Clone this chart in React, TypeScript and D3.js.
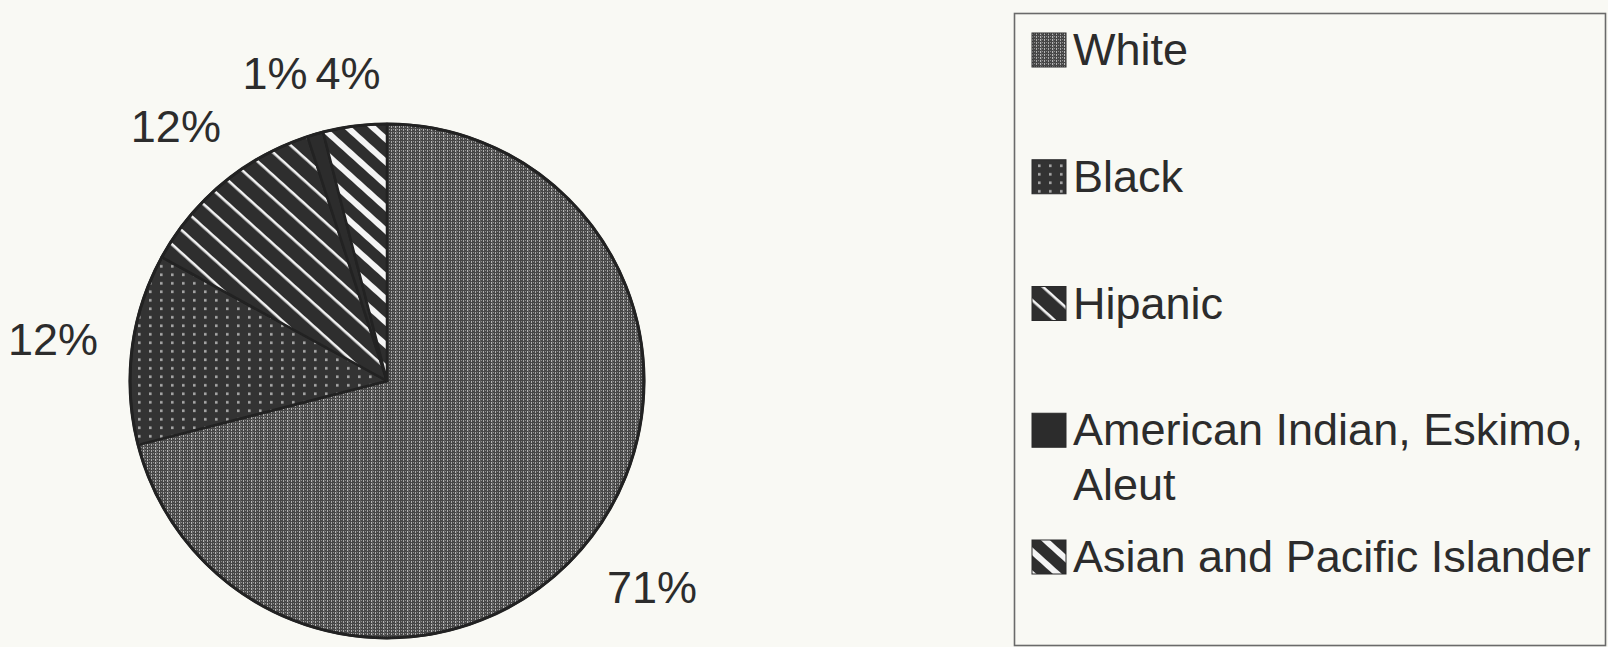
import React from "react";
import * as d3 from "d3";

const categories = [
  "White",
  "Black",
  "Hipanic",
  "American Indian, Eskimo, Aleut",
  "Asian and Pacific Islander",
];
const shares = [71, 12, 12, 1, 4];
const legendLines = [
  ["White"],
  ["Black"],
  ["Hipanic"],
  ["American Indian, Eskimo,", "Aleut"],
  ["Asian and Pacific Islander"],
];
const patternIds = ["pWhite", "pBlack", "pHisp", "pAmInd", "pAsian"];

const W = 1608;
const H = 647;
const CX = 387;
const CY = 381;
const R = 257;
const FONT = "'Liberation Sans', Arial, Helvetica, sans-serif";
const FS = 45;
const INK = "#2c2c2c";

type Label = { x: number; y: number; w: number; h: number; txt: string };

export default function App() {
  const pie = d3
    .pie<number>()
    .sort(null)
    .startAngle(0)
    .endAngle(2 * Math.PI);
  const arcs = pie(shares);
  const arc = d3.arc<d3.PieArcDatum<number>>().innerRadius(0).outerRadius(R);

  // labels sit just outside the rim, pushed out by their own half-extent
  const labels: Label[] = arcs.map((a) => {
    const mid = (a.startAngle + a.endAngle) / 2;
    const ux = Math.sin(mid);
    const uy = -Math.cos(mid);
    const txt = `${a.data}%`;
    const w = FS * (String(a.data).length * 0.556 + 0.889);
    const h = FS * 0.72;
    const ext = (w / 2) * Math.abs(ux) + (h / 2) * Math.abs(uy);
    const d = R + 33 + ext;
    return { x: CX + ux * d, y: CY + uy * d, w, h, txt };
  });
  // nudge crowded neighbours apart, keeping them on one line
  const pad = 8;
  for (let i = labels.length - 2; i >= 0; i--) {
    const a = labels[i];
    const b = labels[i + 1];
    const vOverlap = Math.abs(a.y - b.y) < (a.h + b.h) / 2;
    if (vOverlap && a.x + a.w / 2 + pad > b.x - b.w / 2 && a.x < b.x) {
      a.x = b.x - b.w / 2 - pad - a.w / 2;
      a.y = b.y;
    }
  }

  const legendX = 1032;
  const markSize = 34;
  const legendTextX = 1073;
  const rowY = d3.scaleLinear().domain([0, 4]).range([65, 572]);

  return (
    <svg
      width={W}
      height={H}
      style={{ position: "absolute", left: 0, top: 0, background: "#f9f9f4" }}
    >
      <defs>
        {/* fine vertical hatch with a faint wider banding */}
        <pattern id="pWhite" width={12} height={3} patternUnits="userSpaceOnUse">
          <rect width={12} height={3} fill="#474747" />
          <rect x={0} y={0} width={1} height={2} fill="#b2b2b2" />
          <rect x={2} y={0} width={1} height={1} fill="#8c8c8c" />
          <rect x={4} y={0} width={1} height={2} fill="#a8a8a8" />
          <rect x={6} y={0} width={1} height={1} fill="#8c8c8c" />
          <rect x={8} y={0} width={1} height={2} fill="#b8b8b8" />
          <rect x={9} y={0} width={1} height={3} fill="#5e5e5e" />
          <rect x={10} y={0} width={1} height={1} fill="#8c8c8c" />
        </pattern>
        <pattern id="pBlack" width={11} height={8.5} patternUnits="userSpaceOnUse">
          <rect width={11} height={8.5} fill="#333333" />
          <rect x={4} y={3} width={2.6} height={2.6} fill="#a8a8a8" />
        </pattern>
        <pattern
          id="pHisp"
          width={17}
          height={17}
          patternUnits="userSpaceOnUse"
          patternTransform="rotate(42)"
        >
          <rect width={17} height={17} fill="#2e2e2e" />
          <rect x={0} y={7} width={17} height={2.6} fill="#f2f2f2" />
        </pattern>
        <pattern id="pAmInd" width={4} height={4} patternUnits="userSpaceOnUse">
          <rect width={4} height={4} fill="#2c2c2c" />
        </pattern>
        <pattern
          id="pAsian"
          width={17}
          height={17}
          patternUnits="userSpaceOnUse"
          patternTransform="rotate(42)"
        >
          <rect width={17} height={17} fill="#2e2e2e" />
          <rect x={0} y={5} width={17} height={6} fill="#f4f4f4" />
        </pattern>
      </defs>

      <g transform={`translate(${CX},${CY})`}>
        {arcs.map((a, i) => (
          <path
            key={categories[i]}
            d={arc(a) ?? ""}
            fill={`url(#${patternIds[i]})`}
            stroke="#222"
            strokeWidth={2.5}
            strokeLinejoin="round"
          />
        ))}
        <circle r={R} fill="none" stroke="#222" strokeWidth={3} />
      </g>

      {labels.map((p, i) => (
        <text
          key={`lab-${categories[i]}`}
          x={p.x}
          y={p.y}
          dy={FS * 0.36}
          textAnchor="middle"
          fontFamily={FONT}
          fontSize={FS}
          fill={INK}
        >
          {p.txt}
        </text>
      ))}

      <rect
        x={1014.5}
        y={13.5}
        width={591}
        height={632}
        fill="none"
        stroke="#6a6a6a"
        strokeWidth={1.6}
      />
      {legendLines.map((lines, i) => {
        const by = rowY(i);
        return (
          <g key={`leg-${categories[i]}`}>
            <rect
              x={legendX}
              y={by - markSize + 2}
              width={markSize}
              height={markSize}
              fill={`url(#${patternIds[i]})`}
              stroke="#2a2a2a"
              strokeWidth={1}
            />
            <text x={legendTextX} y={by} fontFamily={FONT} fontSize={FS} fill={INK}>
              {lines.map((ln, j) => (
                <tspan key={j} x={legendTextX} dy={j === 0 ? 0 : 55}>
                  {ln}
                </tspan>
              ))}
            </text>
          </g>
        );
      })}
    </svg>
  );
}
